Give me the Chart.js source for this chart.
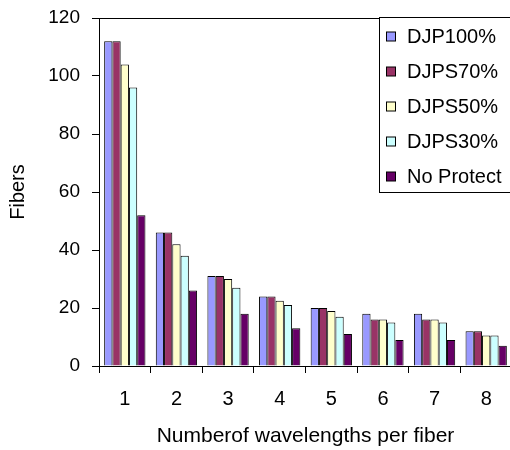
<!DOCTYPE html>
<html>
<head>
<meta charset="utf-8">
<script src="https://cdn.jsdelivr.net/npm/chart.js@4.4.1/dist/chart.umd.min.js"></script>
<style>
  html, body { margin: 0; padding: 0; background: #fff; overflow: hidden; }
  #wrap { position: relative; width: 514px; height: 450px; }
</style>
</head>
<body>
<div id="wrap"><canvas id="fibers-chart" width="514" height="450"></canvas></div>
<script>
// wavelengths per fiber
const categories = ["1", "2", "3", "4", "5", "6", "7", "8"];

// fibers needed for each scheme
const djp100 = [112, 46, 31, 24, 20, 18, 18, 12];
const djps70 = [112, 46, 31, 24, 20, 16, 16, 12];
const djps50 = [104, 42, 30, 22.5, 19, 16, 16, 10.5];
const djps30 = [96, 38, 27, 21, 17, 15, 15, 10.5];
const noProtect = [52, 26, 18, 13, 11, 9, 9, 7];

const seriesNames = ["DJP100%", "DJPS70%", "DJPS50%", "DJPS30%", "No Protect"];
const seriesColors = ["#9999FF", "#993366", "#FFFFCC", "#CCFFFF", "#660066"];
const seriesValues = [djp100, djps70, djps50, djps30, noProtect];

const yMin = 0;
const yMax = 120;
const yStep = 20;

const FONT = "Arial, 'Liberation Sans', sans-serif";
Chart.defaults.font.family = FONT;
Chart.defaults.font.size = 20;
Chart.defaults.color = "#000";

// old-style boxed legend sitting over the top right of the plot
const boxLegend = {
  id: "boxLegend",
  afterDraw(chart) {
    const ctx = chart.ctx;
    const area = chart.chartArea;
    ctx.save();
    // plot frame top edge
    ctx.strokeStyle = "#000";
    ctx.lineWidth = 1;
    ctx.beginPath();
    ctx.moveTo(area.left, Math.round(area.top) + 0.5);
    ctx.lineTo(chart.width, Math.round(area.top) + 0.5);
    ctx.stroke();

    ctx.fillStyle = "#fff";
    ctx.fillRect(379.5, 17.5, 150, 175);
    ctx.strokeRect(379.5, 17.5, 150, 175);
    ctx.font = "20px " + FONT;
    ctx.textBaseline = "middle";
    ctx.textAlign = "left";
    chart.data.datasets.forEach((ds, i) => {
      const y = 36.5 + i * 35;
      ctx.fillStyle = ds.backgroundColor;
      ctx.fillRect(386.5, y - 4.5, 9, 9);
      ctx.strokeRect(386.5, y - 4.5, 9, 9);
      ctx.fillStyle = "#000";
      ctx.fillText(ds.label, 407, y + 1);
    });
    ctx.restore();
  }
};

new Chart(document.getElementById("fibers-chart"), {
  type: "bar",
  data: {
    labels: categories,
    datasets: seriesNames.map((name, i) => ({
      label: name,
      data: seriesValues[i],
      backgroundColor: seriesColors[i],
      borderColor: "#000",
      borderWidth: 1,
      categoryPercentage: 0.8,
      barPercentage: 1.0,
    })),
  },
  options: {
    responsive: false,
    animation: false,
    layout: { padding: { top: 18, right: 2, left: 0, bottom: 0 } },
    plugins: {
      legend: { display: false },
      tooltip: { enabled: false },
    },
    scales: {
      x: {
        offset: true,
        grid: {
          offset: true,
          drawOnChartArea: false,
          tickLength: 7,
          color: "#000",
        },
        border: { color: "#000", width: 1 },
        ticks: { padding: 14, font: { size: 20 }, maxRotation: 0 },
        title: {
          display: true,
          text: "Numberof wavelengths per fiber",
          font: { size: 21 },
          padding: { top: 0, bottom: 1 },
        },
        afterFit(scale) { scale.height = 84; },
      },
      y: {
        min: yMin,
        max: yMax,
        grid: {
          drawOnChartArea: false,
          tickLength: 7,
          color: "#000",
        },
        border: { color: "#000", width: 1 },
        ticks: { stepSize: yStep, padding: 12, font: { size: 19 } },
        title: {
          display: true,
          text: "Fibers",
          font: { size: 20 },
          padding: { top: 6, bottom: 0 },
        },
        afterFit(scale) {
          scale.width = 99;
          // keep the plot top pinned to the layout padding
          scale.paddingTop = 0;
          scale.paddingBottom = 0;
        },
      },
    },
  },
  plugins: [boxLegend],
});
</script>
</body>
</html>
